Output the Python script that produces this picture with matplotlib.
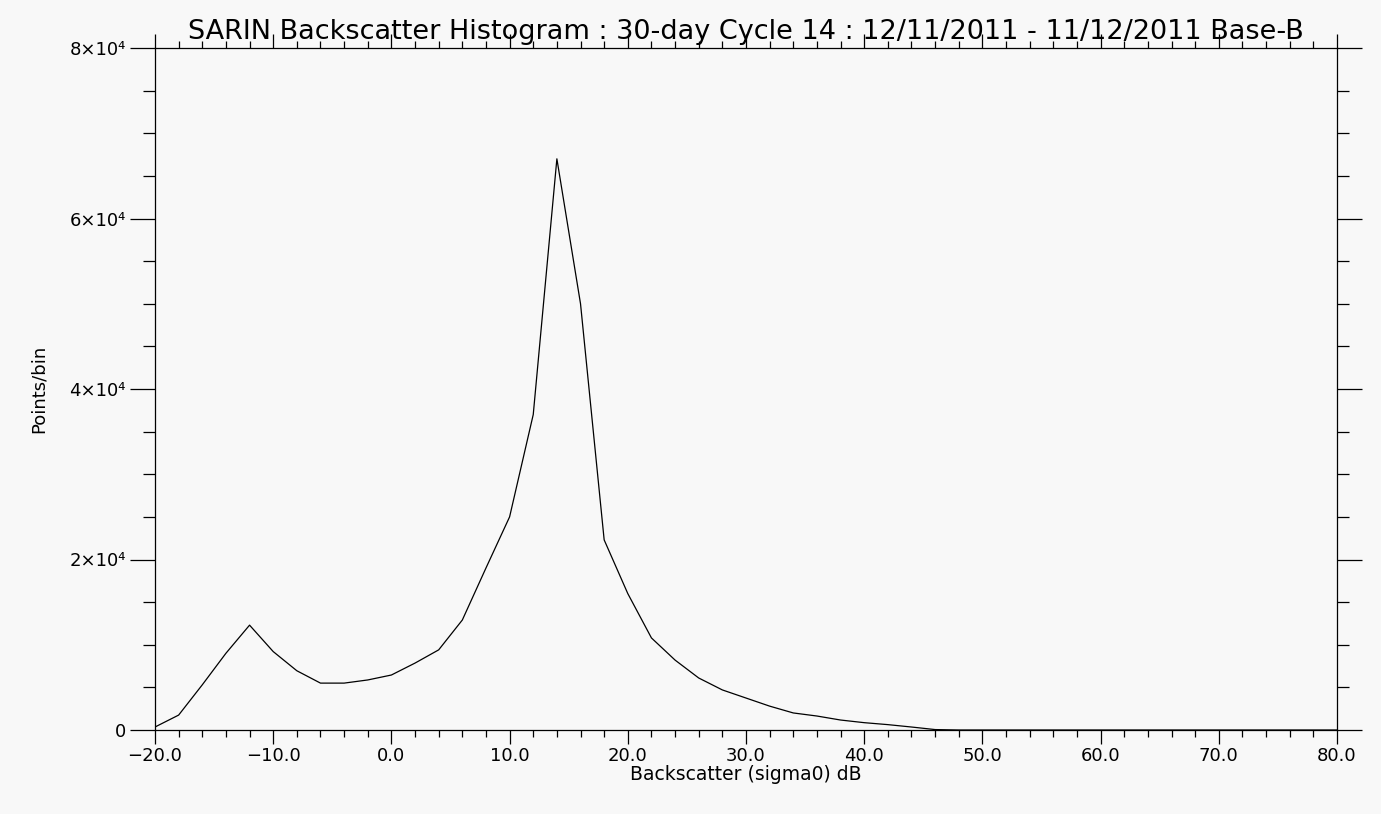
import matplotlib
matplotlib.use("Agg")
import matplotlib.pyplot as plt
from matplotlib.ticker import MultipleLocator, FixedLocator, FixedFormatter

# Data (bin centre in dB, points per bin)
sigma0 = [-20, -18, -16, -14, -12, -10, -8, -6, -4, -2, 0, 2, 4, 6, 8, 10, 12, 14,
          16, 18, 20, 22, 24, 26, 28, 30, 32, 34, 36, 38, 40, 42, 44, 46, 48,
          50, 52, 54, 56, 58, 60, 62, 64, 66, 68, 70, 72, 74, 76, 78, 80]
counts = [350, 1750, 5300, 9000, 12300, 9200, 6950, 5500, 5500, 5870, 6450, 7850,
          9400, 12900, 19000, 25000, 37000, 67000, 50000, 22300, 16000, 10800,
          8200, 6100, 4700, 3750, 2800, 2000, 1640, 1170, 860, 630, 350, 50, 0,
          0, 0, 0, 0, 0, 0, 0, 0, 0, 0, 0, 0, 0, 0, 0, 0]

x_ticks = [-20, -10, 0, 10, 20, 30, 40, 50, 60, 70, 80]
x_labels = ["−20.0", "−10.0", "0.0", "10.0", "20.0", "30.0", "40.0", "50.0", "60.0", "70.0", "80.0"]
y_ticks = [0, 20000, 40000, 60000, 80000]
y_labels = ["0", "2×10⁴", "4×10⁴", "6×10⁴", "8×10⁴"]

title = "SARIN Backscatter Histogram : 30-day Cycle 14 : 12/11/2011 - 11/12/2011 Base-B"
xlabel = "Backscatter (sigma0) dB"
ylabel = "Points/bin"

bg = "#f8f8f8"
fig = plt.figure(figsize=(13.81, 8.14), dpi=100, facecolor=bg)
ax = fig.add_axes([155/1381, 1-730/814, (1337-155)/1381, (730-48)/814])
ax.set_facecolor(bg)

ax.plot(sigma0, counts, color="black", lw=0.9)

ax.set_xlim(-20, 80)
ax.set_ylim(0, 80000)

ax.xaxis.set_major_locator(FixedLocator(x_ticks))
ax.xaxis.set_major_formatter(FixedFormatter(x_labels))
ax.xaxis.set_minor_locator(MultipleLocator(2))
ax.yaxis.set_major_locator(FixedLocator(y_ticks))
ax.yaxis.set_major_formatter(FixedFormatter(y_labels))
ax.yaxis.set_minor_locator(MultipleLocator(5000))

for s in ax.spines.values():
    s.set_linewidth(0.9)
    s.set_color("black")

ax.tick_params(axis="x", which="major", direction="out", length=10, width=0.9,
               top=True, bottom=True, labelsize=13, pad=2)
ax.tick_params(axis="x", which="minor", direction="out", length=5, width=0.9,
               top=True, bottom=True)
ax.tick_params(axis="y", which="major", direction="out", length=18, width=0.9,
               left=True, right=True, labelsize=13, pad=3)
ax.tick_params(axis="y", which="minor", direction="out", length=8.6, width=0.9,
               left=True, right=True)

ax.text(0.5, 1 + 9/682, title, transform=ax.transAxes, ha="center", va="baseline",
        fontsize=19.5)
ax.set_xlabel(xlabel, fontsize=13.5)
ax.xaxis.set_label_coords(0.5, -(765-730)/682)
ax.set_ylabel(ylabel, fontsize=13)
ax.yaxis.set_label_coords(-(155-48)/1182, 0.5)

fig.savefig("out.png", dpi=100, facecolor=bg)
